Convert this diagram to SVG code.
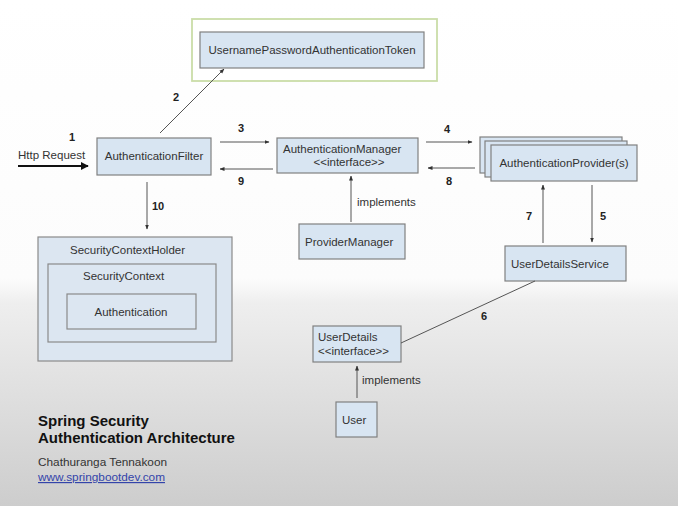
<svg xmlns="http://www.w3.org/2000/svg" width="678" height="506" viewBox="0 0 678 506">
<defs>
<linearGradient id="bg" x1="0" y1="0" x2="0" y2="1">
<stop offset="0" stop-color="#ffffff"/>
<stop offset="0.55" stop-color="#fcfcfc"/>
<stop offset="0.6" stop-color="#eeeeee"/>
<stop offset="1" stop-color="#cdcdcd"/>
</linearGradient>
<marker id="ah" viewBox="0 0 10 10" refX="9" refY="5" markerWidth="5" markerHeight="5" orient="auto" markerUnits="userSpaceOnUse">
<path d="M0,1 L10,5 L0,9 z" fill="#333"/>
</marker>
<marker id="ahb" viewBox="0 0 10 10" refX="9" refY="5" markerWidth="4" markerHeight="4" orient="auto">
<path d="M0,0 L10,5 L0,10 z" fill="#111"/>
</marker>
</defs>
<style>
.box{fill:#d8e5f2;stroke:#808080;stroke-width:1.2}
.holder{fill:#dce6f1;stroke:#8a8a8a;stroke-width:1.2}
.t{font-family:"Liberation Sans",Arial,sans-serif;font-size:11.5px;fill:#333}
.n{font-family:"Liberation Sans",Arial,sans-serif;font-size:11px;font-weight:bold;fill:#222}
.c{stroke:#555;stroke-width:1;fill:none}
</style>
<rect width="678" height="506" fill="url(#bg)"/>

<g id="tokenGroup">
<rect x="192" y="19" width="245" height="62" fill="#ffffff" stroke="#cadda8" stroke-width="1.8"/>
</g>
<g id="token">
<rect class="box" x="200" y="32" width="224" height="36"/>
<text class="t" x="312" y="54" text-anchor="middle">UsernamePasswordAuthenticationToken</text>
</g>
<g id="filter">
<rect class="box" x="97" y="138" width="114" height="37"/>
<text class="t" x="154" y="160" text-anchor="middle">AuthenticationFilter</text>
</g>
<g id="manager">
<rect class="box" x="277" y="138" width="141" height="35"/>
<text class="t" x="283" y="153">AuthenticationManager</text>
<text class="t" x="349" y="166" text-anchor="middle">&lt;&lt;interface&gt;&gt;</text>
</g>
<g id="providers">
<rect class="box" x="480" y="137" width="142" height="36"/>
<rect class="box" x="485" y="141" width="142" height="36"/>
<rect class="box" x="491" y="145" width="146" height="36"/>
<text class="t" x="564" y="167" text-anchor="middle">AuthenticationProvider(s)</text>
</g>
<g id="providerManager">
<rect class="box" x="299" y="224" width="106" height="35"/>
<text class="t" x="305" y="246">ProviderManager</text>
</g>
<g id="userDetailsService">
<rect class="box" x="505" y="246" width="121" height="35"/>
<text class="t" x="511" y="268">UserDetailsService</text>
</g>
<g id="userDetails">
<rect class="box" x="313" y="326" width="88" height="36"/>
<text class="t" x="318" y="341">UserDetails</text>
<text class="t" x="318" y="355">&lt;&lt;interface&gt;&gt;</text>
</g>
<g id="user">
<rect class="box" x="336" y="402" width="41" height="35"/>
<text class="t" x="342" y="424">User</text>
</g>
<g id="securityContextHolder">
<rect class="holder" x="38" y="237" width="194" height="124"/>
<text class="t" x="70" y="254">SecurityContextHolder</text>
<rect class="holder" x="48" y="264" width="168" height="78"/>
<text class="t" x="83" y="280">SecurityContext</text>
<rect class="holder" x="67" y="294" width="129" height="35"/>
<text class="t" x="131" y="316" text-anchor="middle">Authentication</text>
</g>

<g id="connectors">
<line x1="18" y1="166" x2="88" y2="166" stroke="#111" stroke-width="2" marker-end="url(#ahb)"/>
<line class="c" x1="160" y1="133" x2="224" y2="69" marker-end="url(#ah)"/>
<line class="c" x1="220" y1="142" x2="269" y2="142" marker-end="url(#ah)"/>
<line class="c" x1="273" y1="169" x2="220" y2="169" marker-end="url(#ah)"/>
<line class="c" x1="426" y1="142" x2="472" y2="142" marker-end="url(#ah)"/>
<line class="c" x1="475" y1="168" x2="428" y2="168" marker-end="url(#ah)"/>
<line class="c" x1="147" y1="182" x2="147" y2="229" marker-end="url(#ah)"/>
<line class="c" x1="351" y1="222" x2="351" y2="176" marker-end="url(#ah)"/>
<line class="c" x1="543" y1="243" x2="543" y2="185" marker-end="url(#ah)"/>
<line class="c" x1="592" y1="185" x2="592" y2="242" marker-end="url(#ah)"/>
<line class="c" x1="535" y1="281" x2="401" y2="343"/>
<line class="c" x1="357" y1="398" x2="357" y2="366" marker-end="url(#ah)"/>
</g>

<g id="labels">
<text class="n" x="72" y="141" text-anchor="middle">1</text>
<text class="t" x="18" y="159">Http Request</text>
<text class="n" x="176" y="101" text-anchor="middle">2</text>
<text class="n" x="241" y="132" text-anchor="middle">3</text>
<text class="n" x="241" y="185" text-anchor="middle">9</text>
<text class="n" x="447" y="133" text-anchor="middle">4</text>
<text class="n" x="449" y="185" text-anchor="middle">8</text>
<text class="n" x="158" y="210" text-anchor="middle">10</text>
<text class="t" x="357" y="206">implements</text>
<text class="n" x="529" y="220" text-anchor="middle">7</text>
<text class="n" x="603" y="220" text-anchor="middle">5</text>
<text class="n" x="484" y="320" text-anchor="middle">6</text>
<text class="t" x="362" y="384">implements</text>
</g>

<g id="title">
<text x="38" y="426" font-family="Liberation Sans,Arial,sans-serif" font-size="15" font-weight="bold" fill="#111">Spring Security</text>
<text x="38" y="443" font-family="Liberation Sans,Arial,sans-serif" font-size="15" font-weight="bold" fill="#111">Authentication Architecture</text>
<text x="38" y="466" font-family="Liberation Sans,Arial,sans-serif" font-size="11.8" fill="#333">Chathuranga Tennakoon</text>
<text x="38" y="481" font-family="Liberation Sans,Arial,sans-serif" font-size="11.8" fill="#3344aa" text-decoration="underline">www.springbootdev.com</text>
</g>
</svg>
